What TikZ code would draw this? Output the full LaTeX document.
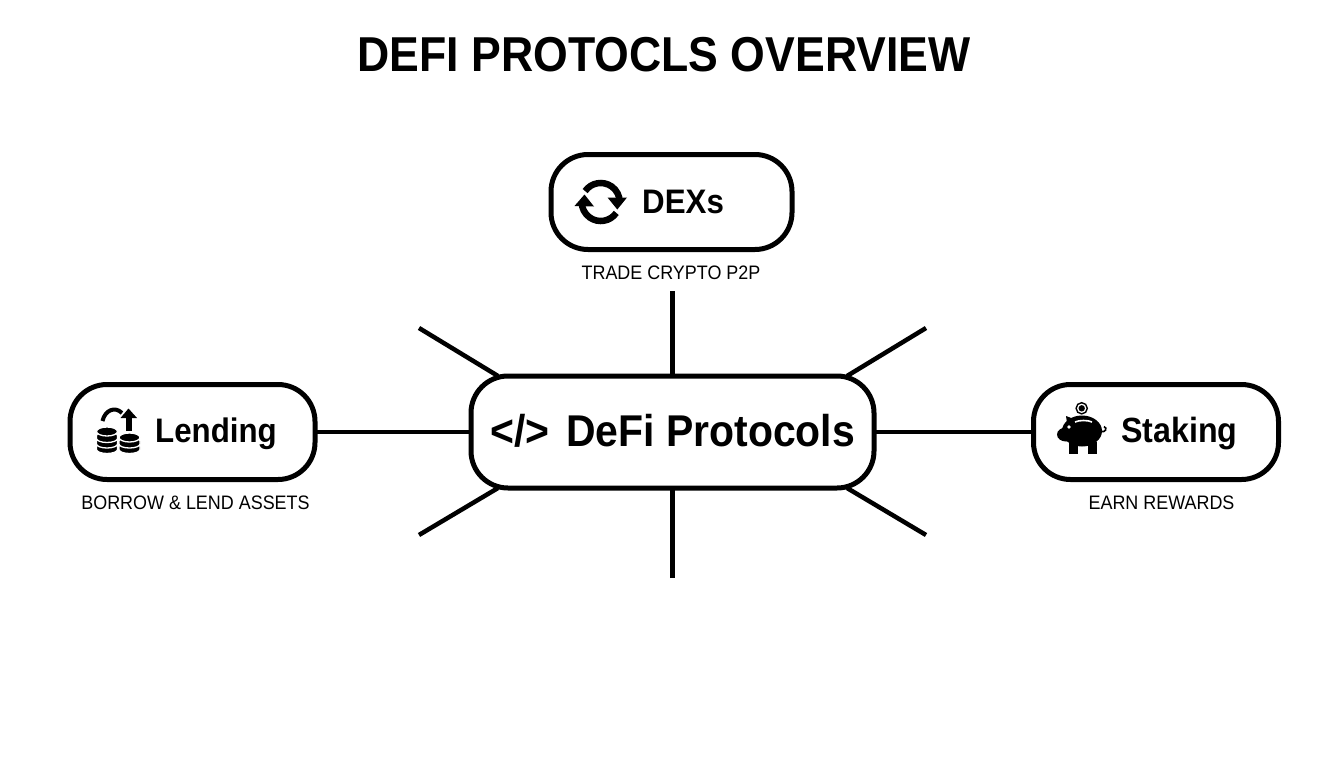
\documentclass[tikz,border=0pt]{standalone}
\usepackage{fontspec}
\setmainfont[FakeStretch=0.92]{Liberation Sans}
\newfontfamily\titlefont[FakeStretch=0.91]{Liberation Sans}
\begin{document}
\begin{tikzpicture}[x=1pt,y=-1pt]
        \tikzstyle{box node}=[draw,line width=5pt,rounded corners=37pt,outer sep=0pt,fill=white]
        \tikzstyle{item node}=[box node,minimum width=245pt,minimum height=95pt]
        \tikzstyle{name node}=[font=\bfseries\fontsize{34}{35}\selectfont,inner sep=0pt,anchor=base west]
        \tikzstyle{hub text}=[name node,font=\bfseries\fontsize{44.5}{45}\selectfont]
        \tikzstyle{note node}=[font=\fontsize{19.5}{20}\selectfont,inner sep=0pt,anchor=base]
        \tikzstyle{spoke}=[line width=4.5pt]
        \tikzstyle{icon line}=[line width=6.5pt]
        \tikzstyle{coin}=[fill=black,draw=white,line width=1.3pt]
        \useasboundingbox (0,0) rectangle (1344,768);

        % Title and boxes
        \node(title)[font=\titlefont\bfseries\fontsize{49}{49}\selectfont,inner sep=0pt,anchor=base] at (664,71){DEFI PROTOCLS OVERVIEW};
        \node(hub)[box node,minimum width=403pt,minimum height=112pt] at (672.5,432){};
        \node(dexs)[item node,minimum width=241pt] at (671.5,202){};
        \node(lending)[item node] at (192.5,432){};
        \node(staking)[item node] at (1156,432){};

        % Box texts
        \node(hubcode)[hub text] at (490,446){</>};
        \node(hubname)[hub text] at (566,446){DeFi Protocols};
        \node(dexsname)[name node] at (642,213.5){DEXs};
        \node(lendingname)[name node] at (155,442){Lending};
        \node(stakingname)[name node,font=\bfseries\fontsize{35}{35}\selectfont] at (1121,442){Staking};
        \node(dexsnote)[note node] at (671,279.5){TRADE CRYPTO P2P};
        \node(lendingnote)[note node] at (195.5,509.5){BORROW \& LEND ASSETS};
        \node(stakingnote)[note node] at (1161.5,509.5){EARN REWARDS};

        % Free ends of the spokes
        \coordinate(topend) at (672.5,291);
        \coordinate(bottomend) at (672.5,578);
        \coordinate(nwend) at (419,328);
        \coordinate(neend) at (926,328);
        \coordinate(swend) at (419,535);
        \coordinate(seend) at (926,535);

        % Spokes
        \draw[spoke] (lending.east) -- (hub.west);
        \draw[spoke] (staking.west) -- (hub.east);
        \draw[spoke] (topend) -- (hub.north);
        \draw[spoke] (bottomend) -- (hub.south);
        \draw[spoke] (nwend) -- ([xshift=27pt]hub.north west);
        \draw[spoke] (neend) -- ([xshift=-27pt]hub.north east);
        \draw[spoke] (swend) -- ([xshift=27pt]hub.south west);
        \draw[spoke] (seend) -- ([xshift=-27pt]hub.south east);

        % Swap icon
        \draw[icon line] (600.7,202)++(215:19) arc[start angle=215,end angle=360,radius=19];
        \draw[icon line] (600.7,202)++(35:19) arc[start angle=35,end angle=180,radius=19];
        \fill (607.5,197.5) -- (627,197.5) -- (617.3,209.5) -- cycle;
        \fill (574.5,206) -- (584.5,194.5) -- (594,206.5) -- cycle;

        % Coins icon
        \foreach \y in {449.5,444,438.5}{
                \filldraw[coin] (96.5,\y-3) -- (96.5,\y) arc[start angle=180,end angle=0,x radius=10.5,y radius=4] -- (117.5,\y-3) arc[start angle=360,end angle=180,x radius=10.5,y radius=4] -- cycle;
            }
        \filldraw[coin] (107,431.5) ellipse[x radius=10.5,y radius=4.5];
        \foreach \y in {449.5,444}{
                \filldraw[coin] (119,\y-3) -- (119,\y) arc[start angle=180,end angle=0,x radius=10.5,y radius=4] -- (140,\y-3) arc[start angle=360,end angle=180,x radius=10.5,y radius=4] -- cycle;
            }
        \filldraw[coin] (129.5,437.5) ellipse[x radius=10.5,y radius=4.5];
        \draw[line width=4pt] (102.5,421) .. controls (105,410) and (115,406) .. (122,413);
        \draw[line width=6pt] (129,431) -- (129,416);
        \fill (120.5,418) -- (128.5,408.5) -- (137,418) -- cycle;

        % Piggy icon
        \fill (1082,431) ellipse[x radius=20,y radius=15.5];
        \fill (1066,434.5) ellipse[x radius=9,y radius=7];
        \fill (1066,416) -- (1079,421) -- (1068,430) -- cycle;
        \fill (1069,442) rectangle (1078,453.5);
        \fill (1088,442) rectangle (1096.5,453.5);
        \draw[line width=1.6pt] (1101,431.5) .. controls (1105,433) and (1108,428) .. (1104,426.5);
        \fill[white] (1069,427) circle[radius=1.8];
        \draw[white,line width=1.6pt] (1075,422) .. controls (1079,420) and (1088,420) .. (1092,422);
        \draw[line width=1.4pt] (1081.7,408.3) circle[radius=5.6];
        \fill (1081.7,408.3) circle[radius=3.2];
    \end{tikzpicture}
\end{document}
